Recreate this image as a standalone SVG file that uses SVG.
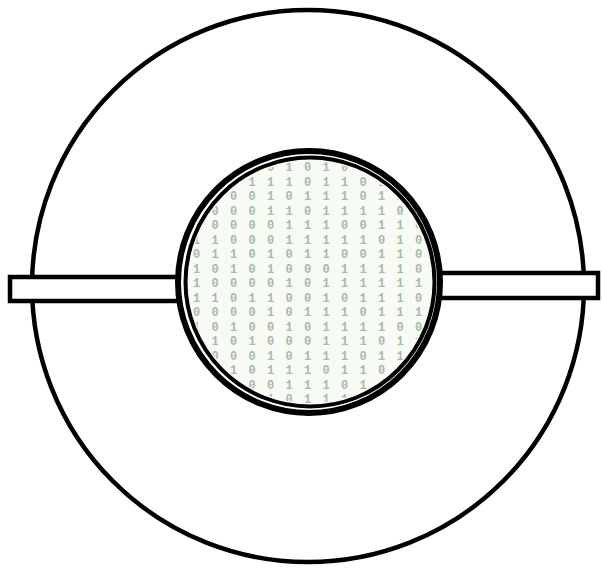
<svg xmlns="http://www.w3.org/2000/svg" width="602" height="570" viewBox="0 0 602 570">
<style>
.ln{fill:#fff;stroke:#000;stroke-width:4.5}
.d{font-family:"Liberation Mono",monospace;font-size:12px;font-weight:bold;fill:#a9baa6;text-anchor:middle}
</style>
<defs>
<clipPath id="disc"><circle cx="310" cy="282" r="121"/></clipPath>
</defs>
<rect width="602" height="570" fill="#fff"/>
<g id="outer"><circle class="ln" cx="308" cy="286" r="276"/></g>
<g id="bars">
<rect class="ln" x="10" y="277" width="180" height="24"/>
<rect class="ln" x="430" y="273" width="168" height="25"/>
</g>
<g id="lens">
<circle cx="309" cy="282" r="131" fill="#fff" stroke="#000" stroke-width="6"/>
<circle cx="310" cy="282" r="124.5" fill="#f7fbf4" stroke="#000" stroke-width="4"/>
<g clip-path="url(#disc)" class="d">
<text x="178 196.5 215 233.5 252 270.5 289 307.5 326 344.5 363 381.5 400 418.5 437" y="171">101100101011010</text>
<text x="178 196.5 215 233.5 252 270.5 289 307.5 326 344.5 363 381.5 400 418.5 437" y="186">010011101101001</text>
<text x="178 196.5 215 233.5 252 270.5 289 307.5 326 344.5 363 381.5 400 418.5 437" y="200">110001011101101</text>
<text x="178 196.5 215 233.5 252 270.5 289 307.5 326 344.5 363 381.5 400 418.5 437" y="215">010001101111010</text>
<text x="178 196.5 215 233.5 252 270.5 289 307.5 326 344.5 363 381.5 400 418.5 437" y="229">100000111001101</text>
<text x="178 196.5 215 233.5 252 270.5 289 307.5 326 344.5 363 381.5 400 418.5 437" y="244">011000111110101</text>
<text x="178 196.5 215 233.5 252 270.5 289 307.5 326 344.5 363 381.5 400 418.5 437" y="258">101101011001100</text>
<text x="178 196.5 215 233.5 252 270.5 289 307.5 326 344.5 363 381.5 400 418.5 437" y="273">010101000111101</text>
<text x="178 196.5 215 233.5 252 270.5 289 307.5 326 344.5 363 381.5 400 418.5 437" y="287">110000101111110</text>
<text x="178 196.5 215 233.5 252 270.5 289 307.5 326 344.5 363 381.5 400 418.5 437" y="302">011011001011101</text>
<text x="178 196.5 215 233.5 252 270.5 289 307.5 326 344.5 363 381.5 400 418.5 437" y="316">100001011101110</text>
<text x="178 196.5 215 233.5 252 270.5 289 307.5 326 344.5 363 381.5 400 418.5 437" y="331">010100101111001</text>
<text x="178 196.5 215 233.5 252 270.5 289 307.5 326 344.5 363 381.5 400 418.5 437" y="345">101010001110110</text>
<text x="178 196.5 215 233.5 252 270.5 289 307.5 326 344.5 363 381.5 400 418.5 437" y="360">010001011101101</text>
<text x="178 196.5 215 233.5 252 270.5 289 307.5 326 344.5 363 381.5 400 418.5 437" y="374">100101110110010</text>
<text x="178 196.5 215 233.5 252 270.5 289 307.5 326 344.5 363 381.5 400 418.5 437" y="389">011100111011101</text>
<text x="178 196.5 215 233.5 252 270.5 289 307.5 326 344.5 363 381.5 400 418.5 437" y="403">101011011101010</text>
</g>
</g>
</svg>
